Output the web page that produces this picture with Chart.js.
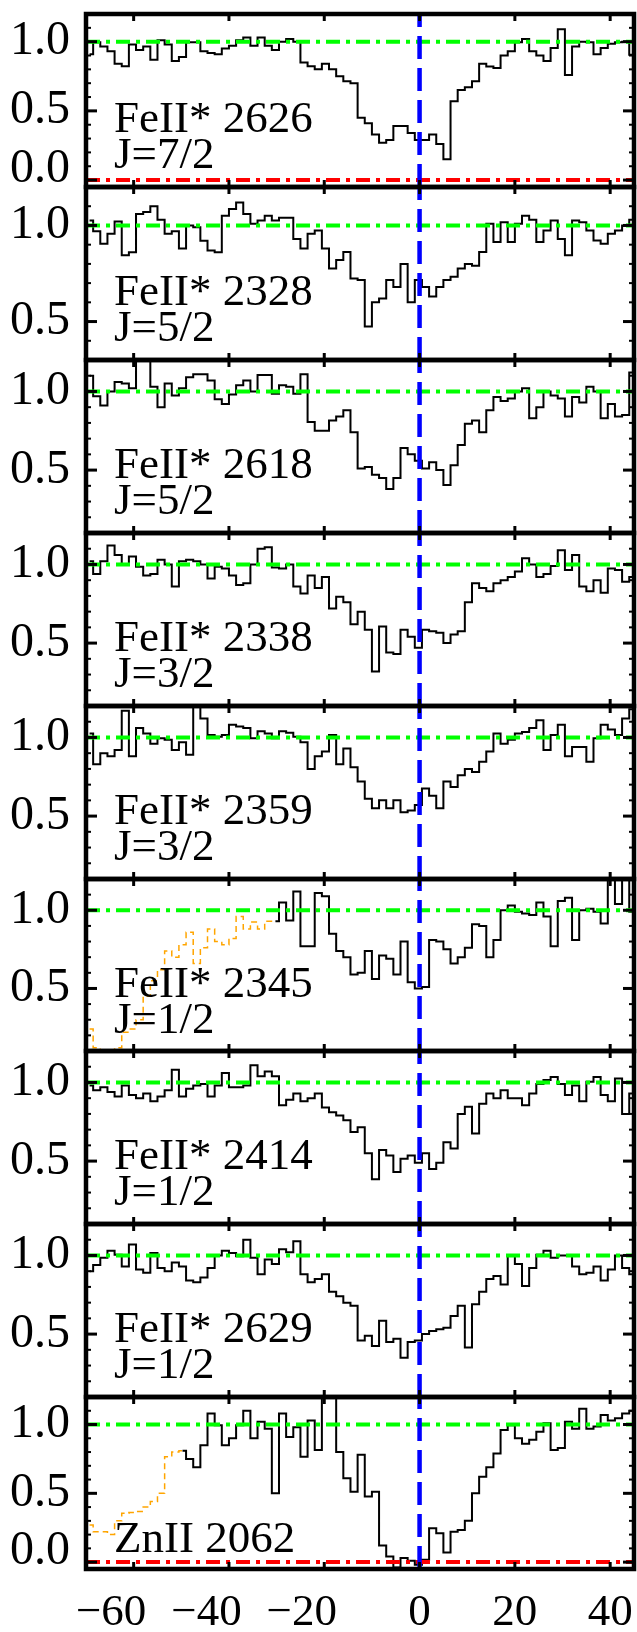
<!DOCTYPE html>
<html>
<head>
<meta charset="utf-8">
<script src="https://cdn.jsdelivr.net/npm/chart.js@4.4.0/dist/chart.umd.min.js"></script>
<style>
  html, body { margin: 0; padding: 0; background: #fff; }
  #wrap { position: relative; width: 637px; height: 1632px; background: #fff; overflow: hidden; }
  #wrap canvas { position: absolute; left: 0; }
</style>
</head>
<body>
<div id="wrap"></div>
<script>
// velocity bin centres (km/s), 1.5 km/s bins
const velocity = [-69.25, -67.75, -66.25, -64.75, -63.25, -61.75, -60.25, -58.75, -57.25, -55.75,
  -54.25, -52.75, -51.25, -49.75, -48.25, -46.75, -45.25, -43.75, -42.25, -40.75,
  -39.25, -37.75, -36.25, -34.75, -33.25, -31.75, -30.25, -28.75, -27.25, -25.75,
  -24.25, -22.75, -21.25, -19.75, -18.25, -16.75, -15.25, -13.75, -12.25, -10.75,
  -9.25, -7.75, -6.25, -4.75, -3.25, -1.75, -0.25, 1.25, 2.75, 4.25,
  5.75, 7.25, 8.75, 10.25, 11.75, 13.25, 14.75, 16.25, 17.75, 19.25,
  20.75, 22.25, 23.75, 25.25, 26.75, 28.25, 29.75, 31.25, 32.75, 34.25,
  35.75, 37.25, 38.75, 40.25, 41.75, 43.25, 44.75];

// normalised flux per transition
const fe2626 = [0.91, 0.995, 0.966, 0.93, 0.84, 0.822, 0.98, 0.94, 0.966, 0.87,
  1.01, 0.98, 0.86, 0.89, 0.995, 0.995, 0.93, 0.918, 0.91, 0.95,
  0.97, 1.01, 1.03, 0.97, 1.03, 0.97, 0.94, 1.0, 1.02, 1.0,
  0.85, 0.822, 0.80, 0.84, 0.80, 0.75, 0.714, 0.70, 0.45, 0.41,
  0.33, 0.27, 0.29, 0.39, 0.39, 0.34, 0.29, 0.29, 0.33, 0.26,
  0.15, 0.57, 0.65, 0.67, 0.714, 0.84, 0.82, 0.81, 0.90, 0.93,
  0.995, 1.02, 0.93, 0.90, 0.86, 0.955, 1.09, 0.76, 0.966, 1.0,
  0.995, 0.91, 0.955, 0.985, 0.995, 1.0, 0.905];

const fe2328 = [1.026, 0.97, 0.905, 0.957, 1.02, 0.845, 0.86, 1.06, 1.07, 1.10,
  1.03, 0.957, 0.97, 0.88, 1.0, 0.99, 0.92, 0.87, 0.86, 1.05,
  1.086, 1.12, 1.06, 1.009, 1.026, 1.05, 1.026, 1.04, 1.04, 0.93,
  0.88, 0.957, 0.974, 0.88, 0.776, 0.82, 0.862, 0.724, 0.716, 0.474,
  0.60, 0.62, 0.716, 0.68, 0.80, 0.60, 0.716, 0.68, 0.63, 0.68,
  0.716, 0.733, 0.776, 0.80, 0.79, 0.862, 1.009, 0.914, 1.017, 0.914,
  1.009, 1.05, 1.03, 0.914, 0.974, 1.026, 0.93, 0.845, 1.026, 1.017,
  0.974, 0.922, 0.905, 0.957, 0.974, 1.0, 1.03];

const fe2618 = [1.10, 0.97, 0.91, 1.0, 1.06, 1.05, 1.02, 1.22, 1.22, 1.03,
  0.90, 1.05, 0.975, 1.02, 1.09, 1.11, 1.11, 1.07, 0.95, 0.92,
  0.98, 1.04, 1.07, 1.0, 1.105, 1.105, 0.985, 1.04, 1.03, 0.985,
  1.11, 0.805, 0.75, 0.75, 0.815, 0.84, 0.88, 0.74, 0.51, 0.52,
  0.47, 0.45, 0.38, 0.45, 0.64, 0.60, 0.56, 0.51, 0.55, 0.50,
  0.405, 0.53, 0.66, 0.795, 0.815, 0.74, 0.88, 0.965, 0.94, 0.955,
  1.0, 1.02, 0.83, 0.90, 1.0, 0.975, 0.955, 0.84, 0.965, 0.93,
  1.03, 1.0, 0.83, 0.92, 0.84, 0.85, 1.12];

const fe2338 = [1.02, 0.94, 1.02, 1.12, 1.06, 1.0, 1.05, 0.985, 0.93, 0.94,
  1.03, 1.0, 0.86, 1.02, 1.03, 1.02, 1.0, 0.91, 0.985, 0.975,
  0.93, 0.87, 0.88, 1.0, 1.1, 1.11, 0.98, 0.975, 1.0, 0.86,
  0.815, 0.93, 0.85, 0.92, 0.72, 0.795, 0.76, 0.62, 0.70, 0.585,
  0.32, 0.605, 0.44, 0.43, 0.585, 0.54, 0.47, 0.585, 0.575, 0.565,
  0.50, 0.555, 0.575, 0.76, 0.88, 0.85, 0.83, 0.88, 0.90, 0.92,
  0.955, 1.04, 1.0, 0.92, 0.94, 0.99, 1.09, 0.965, 1.06, 0.86,
  0.83, 0.90, 0.82, 0.975, 0.965, 0.89, 0.92];

const fe2359 = [1.025, 0.83, 0.90, 0.88, 0.92, 1.17, 0.88, 1.06, 1.025, 0.96,
  0.995, 0.985, 0.92, 0.97, 0.89, 1.22, 1.12, 1.015, 1.005, 1.015,
  1.08, 1.07, 1.06, 0.995, 1.04, 1.025, 0.995, 1.04, 1.03, 1.005,
  0.97, 0.80, 0.88, 0.91, 1.015, 0.83, 0.93, 0.81, 0.72, 0.61,
  0.55, 0.60, 0.55, 0.60, 0.525, 0.535, 0.57, 0.675, 0.63, 0.55,
  0.72, 0.685, 0.76, 0.80, 0.78, 0.845, 0.91, 1.025, 0.96, 0.985,
  1.025, 1.035, 1.06, 1.11, 0.92, 1.015, 1.08, 0.88, 0.94, 0.94,
  0.845, 0.995, 1.08, 1.05, 1.015, 1.12, 1.18];

const fe2345 = [null, null, null, null, null, null, null, null, null, null,
  null, null, null, null, null, null, null, null, null, null,
  null, null, null, null, null, null, 0.93, 1.05, 0.935, 1.12,
  0.77, 0.77, 1.11, 1.09, 0.85, 0.74, 0.70, 0.59, 0.60, 0.74,
  0.56, 0.71, 0.69, 0.59, 0.80, 0.54, 0.50, 0.51, 0.81, 0.80,
  0.75, 0.66, 0.70, 0.76, 0.91, 0.90, 0.70, 0.81, 1.0, 1.03,
  0.99, 0.98, 0.97, 1.05, 0.96, 0.77, 1.06, 1.08, 0.81, 1.0,
  1.01, 0.99, 0.915, 1.22, 1.04, 1.22, 0.99];

// blended part of the FeII* 2345 window (dashed orange)
const fe2345Blend = [0.24, 0.12, 0.08, 0.08, 0.12, 0.22, 0.24, 0.30, 0.45, 0.55,
  0.62, 0.74, 0.70, 0.78, 0.86, 0.66, 0.76, 0.88, 0.80, 0.78,
  0.82, 0.96, 0.88, 0.925, 0.88, 0.93, 0.93];

const fe2414 = [0.98, 0.95, 0.97, 0.94, 0.91, 0.98, 0.92, 0.90, 0.93, 0.88,
  0.91, 0.95, 1.08, 0.91, 0.96, 0.98, 0.99, 0.91, 0.98, 1.06,
  0.97, 0.97, 0.98, 1.11, 1.04, 1.07, 1.04, 0.855, 0.89, 0.93,
  0.88, 0.90, 0.93, 0.84, 0.81, 0.79, 0.76, 0.685, 0.715, 0.55,
  0.385, 0.57, 0.535, 0.43, 0.515, 0.535, 0.49, 0.55, 0.45, 0.49,
  0.62, 0.58, 0.80, 0.845, 0.675, 0.865, 0.93, 0.90, 0.95, 0.90,
  0.90, 0.855, 0.93, 0.99, 1.015, 1.035, 0.99, 0.92, 0.98, 0.88,
  1.005, 1.035, 0.92, 0.88, 1.025, 0.80, 0.93];

const fe2629 = [0.90, 0.94, 0.985, 1.03, 1.005, 0.93, 1.07, 0.91, 0.89, 1.015,
  0.92, 0.90, 0.955, 0.93, 0.84, 0.83, 0.86, 0.92, 1.0, 1.03,
  1.015, 0.995, 1.10, 0.985, 0.88, 0.975, 0.945, 1.04, 1.02, 1.09,
  0.88, 0.83, 0.85, 0.88, 0.77, 0.74, 0.70, 0.68, 0.46, 0.49,
  0.425, 0.585, 0.45, 0.47, 0.35, 0.45, 0.46, 0.50, 0.52, 0.53,
  0.54, 0.615, 0.68, 0.415, 0.69, 0.77, 0.85, 0.87, 0.815, 1.0,
  0.945, 0.805, 0.92, 1.005, 1.03, 0.985, 1.0, 1.0, 0.93, 0.88,
  0.89, 0.93, 0.84, 0.91, 1.0, 0.92, 0.88];

const zn2062 = [null, null, null, null, null, null, null, null, null, null,
  null, null, null, 0.81, 0.75, 0.69, 0.85, 1.08, 0.995, 0.85,
  0.90, 0.995, 1.10, 0.90, 1.02, 0.97, 0.50, 1.08, 0.91, 0.98,
  0.766, 1.03, 0.814, 1.22, 1.22, 0.80, 0.61, 0.512, 0.78, 0.476,
  0.512, 0.12, 0.04, -0.04, 0.03, 0.01, -0.02, 0.017, 0.246, 0.21,
  0.07, 0.22, 0.234, 0.30, 0.50, 0.62, 0.69, 0.79, 0.96, 0.995,
  0.90, 0.86, 0.89, 0.947, 1.01, 0.814, 0.83, 1.02, 0.97, 1.115,
  0.97, 0.985, 1.07, 1.03, 1.045, 1.08, 1.10];

const zn2062Blend = [0.27, 0.22, 0.22, 0.20, 0.30, 0.355, 0.36, 0.367, 0.40, 0.44,
  0.50, 0.766, 0.80, 0.81];

const lineNames = ["FeII* 2626", "FeII* 2328", "FeII* 2618", "FeII* 2338", "FeII* 2359",
  "FeII* 2345", "FeII* 2414", "FeII* 2629", "ZnII 2062"];
const jLabels = ["J=7/2", "J=5/2", "J=5/2", "J=3/2", "J=3/2", "J=1/2", "J=1/2", "J=1/2", null];
const xTicks = [-60, -40, -20, 0, 20, 40];

const panels = [
  { flux: fe2626, blend: null, yMin: -0.05, yMax: 1.2, yTicks: [0, 0.5, 1] },
  { flux: fe2328, blend: null, yMin: 0.3, yMax: 1.2, yTicks: [0.5, 1] },
  { flux: fe2618, blend: null, yMin: 0.1, yMax: 1.2, yTicks: [0.5, 1] },
  { flux: fe2338, blend: null, yMin: 0.1, yMax: 1.2, yTicks: [0.5, 1] },
  { flux: fe2359, blend: null, yMin: 0.1, yMax: 1.2, yTicks: [0.5, 1] },
  { flux: fe2345, blend: fe2345Blend, yMin: 0.1, yMax: 1.2, yTicks: [0.5, 1] },
  { flux: fe2414, blend: null, yMin: 0.1, yMax: 1.2, yTicks: [0.5, 1] },
  { flux: fe2629, blend: null, yMin: 0.1, yMax: 1.2, yTicks: [0.5, 1] },
  { flux: zn2062, blend: zn2062Blend, yMin: -0.05, yMax: 1.2, yTicks: [0, 0.5, 1] }
];

// page layout (pixels)
const panelTops = [14, 187, 360, 533, 706, 879, 1051, 1224, 1397];
const lastBottom = 1569;
const PAD = 24;   // canvas margin round each frame (room for the axis label padding)
const FONT = "'Liberation Serif', 'Times New Roman', serif";

Chart.defaults.font.family = FONT;
Chart.defaults.color = '#000';

function toPoints(arr) {
  const pts = [];
  arr.forEach((y, i) => { if (y !== null) pts.push({ x: velocity[i], y: y }); });
  return pts;
}

const framePlugin = {
  id: 'frame',
  afterDatasetsDraw(chart, args, opts) {
    const ctx = chart.ctx;
    const a = chart.chartArea;
    const x = chart.scales.x, y = chart.scales.y;
    ctx.save();
    ctx.strokeStyle = '#000';
    const seg = (x1, y1, x2, y2) => { ctx.beginPath(); ctx.moveTo(x1, y1); ctx.lineTo(x2, y2); ctx.stroke(); };

    ctx.lineWidth = 3;
    xTicks.forEach(v => {
      const px = x.getPixelForValue(v);
      seg(px, a.top, px, a.top + 7);
      seg(px, a.bottom, px, a.bottom - 7);
    });
    for (let k = Math.ceil(y.min * 10 - 1e-6); k <= Math.floor(y.max * 10 + 1e-6); k++) {
      const py = y.getPixelForValue(k / 10);
      const major = k % 5 === 0;
      ctx.lineWidth = major ? 3 : 2;
      const len = major ? 11 : 5;
      seg(a.left, py, a.left + len, py);
      seg(a.right, py, a.right - len, py);
    }
    ctx.lineWidth = 4.5;
    ctx.strokeRect(a.left, a.top, a.right - a.left, a.bottom - a.top);

    ctx.fillStyle = '#000';
    ctx.textAlign = 'left';
    ctx.textBaseline = 'alphabetic';
    ctx.font = '45px ' + FONT;
    if (opts.j) {
      ctx.fillText(opts.name, 114, a.top + 118);
      ctx.fillText(opts.j, 114, a.top + 154);
    } else {
      ctx.fillText(opts.name, 114, a.top + 155);
    }
    if (opts.zero) {
      // the zero label sits a little above its tick, as in the original
      ctx.font = '48px ' + FONT;
      ctx.textAlign = 'right';
      ctx.textBaseline = 'middle';
      ctx.fillText('0.0', a.left - 16, y.getPixelForValue(0) - 11);
    }
    ctx.restore();
  }
};

const wrap = document.getElementById('wrap');

panels.forEach((p, i) => {
  const last = i === panels.length - 1;
  const top = panelTops[i];
  const bottom = last ? lastBottom : panelTops[i + 1];
  const cTop = top - PAD;
  const cH = last ? 1632 - cTop : bottom - top + 2 * PAD;

  const canvas = document.createElement('canvas');
  canvas.width = 637;
  canvas.height = cH;
  canvas.style.top = cTop + 'px';
  canvas.style.width = '637px';
  canvas.style.height = cH + 'px';
  wrap.appendChild(canvas);

  const hasZero = p.yTicks.includes(0);
  const datasets = [
    {
      data: [{ x: 0, y: p.yMin }, { x: 0, y: p.yMax }],
      borderColor: '#0000ff', borderWidth: 4.5, borderDash: [23, 9],
      pointRadius: 0, tension: 0
    }
  ];
  if (hasZero) {
    datasets.push({
      data: [{ x: -70, y: 0 }, { x: 45, y: 0 }],
      borderColor: '#ff0000', borderWidth: 4, borderDash: [14, 6, 4, 6],
      pointRadius: 0, tension: 0
    });
  }
  datasets.push({
    data: [{ x: -70, y: 1 }, { x: 45, y: 1 }],
    borderColor: '#00ff00', borderWidth: 4, borderDash: [14, 6, 4, 6],
    pointRadius: 0, tension: 0
  });
  if (p.blend) {
    datasets.push({
      data: toPoints(p.blend),
      borderColor: '#ffa500', borderWidth: 1.5, borderDash: [6, 4],
      stepped: 'middle', pointRadius: 0
    });
  }
  datasets.push({
    data: toPoints(p.flux),
    borderColor: '#000', borderWidth: 2,
    stepped: 'middle', pointRadius: 0
  });

  new Chart(canvas, {
    type: 'line',
    data: { datasets: datasets },
    options: {
      responsive: false,
      animation: false,
      devicePixelRatio: 1,
      layout: { padding: { left: 0, right: 3, top: PAD, bottom: last ? 0 : PAD } },
      plugins: {
        legend: { display: false },
        tooltip: { enabled: false },
        frame: { name: lineNames[i], j: jLabels[i], zero: hasZero }
      },
      scales: {
        x: {
          type: 'linear', min: -70, max: 45,
          display: last,
          afterFit: s => {
            s.paddingLeft = 0;
            s.paddingRight = 0;
            if (last) s.height = 1632 - lastBottom;
          },
          afterBuildTicks: s => { s.ticks = xTicks.map(v => ({ value: v })); },
          grid: { display: false, drawTicks: false },
          border: { display: false },
          ticks: {
            padding: 17, autoSkip: false, maxRotation: 0,
            font: { size: 45 }, color: '#000',
            // negative labels hang to the left of their tick in the original
            callback: v => v < 0 ? '\u2212' + (-v) + '\u2003' : String(v)
          }
        },
        y: {
          type: 'linear', min: p.yMin, max: p.yMax,
          afterFit: s => { s.width = 86; },
          afterBuildTicks: s => { s.ticks = p.yTicks.map(v => ({ value: v })); },
          grid: { display: false, drawTicks: false },
          border: { display: false },
          ticks: {
            padding: 16, font: { size: 48, lineHeight: 0.1 }, color: '#000',
            callback: v => v === 0 ? '' : v.toFixed(1)
          }
        }
      }
    },
    plugins: [framePlugin]
  });
});
</script>
</body>
</html>
